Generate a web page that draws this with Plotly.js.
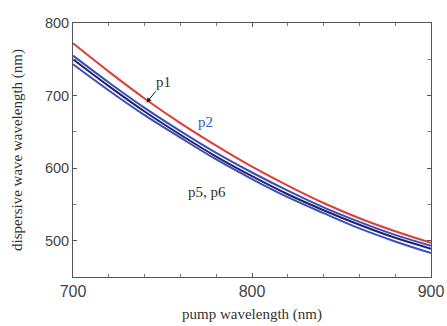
<!DOCTYPE html>
<html>
<head>
<meta charset="utf-8">
<script src="https://cdn.plot.ly/plotly-3.0.1.min.js"></script>
<style>html,body{margin:0;padding:0;background:#fff;}#chart{width:447px;height:326px;}</style>
</head>
<body>
<div id="chart"></div>
<script>
// pump wavelength (nm)
var pump = [700, 720, 740, 760, 780, 800, 820, 840, 860, 880, 900];
// dispersive wave wavelength (nm)
var redLine   = [772, 733, 696, 662, 631, 602, 576, 552, 531, 513, 497];
var blueUpper = [755, 718, 683, 651, 621, 594, 569, 546, 526, 508, 493];
var navyMid   = [750, 713, 678, 646, 616, 589, 564, 542, 522, 504, 489];
var blueLower = [743, 707, 673, 642, 612, 585, 560, 538, 517, 499, 483];

var xTicks = [700, 800, 900];
var yTicks = [500, 600, 700, 800];

function line(y, color) {
  return {x: pump, y: y, type: 'scatter', mode: 'lines', line: {color: color, width: 2, shape: 'spline'}, hoverinfo: 'none'};
}

var data = [
  line(blueLower, '#3a4fbf'),
  line(navyMid, '#22245e'),
  line(blueUpper, '#3a4fbf'),
  line(redLine, '#de3d34')
];

var axisCommon = {
  showgrid: false, zeroline: false, showline: true, linecolor: '#555', linewidth: 1,
  mirror: 'allticks', ticks: 'inside', ticklen: 4, tickcolor: '#555'
};

var serif = 'Liberation Serif, Times New Roman, serif';
var sans = 'Liberation Sans, Arial, sans-serif';

var layout = {
  width: 447, height: 326,
  margin: {l: 73, r: 16, t: 23, b: 49},
  paper_bgcolor: '#fff', plot_bgcolor: '#fff',
  showlegend: false,
  xaxis: Object.assign({}, axisCommon, {
    range: [700, 900], tickvals: xTicks, ticktext: xTicks.map(String),
    tickfont: {family: sans, size: 16, color: '#444'},
    minor: {dtick: 20, ticks: 'inside', ticklen: 3, tickcolor: '#777', showgrid: false},
    title: {text: 'pump wavelength (nm)', font: {family: serif, size: 15, color: '#333'}, standoff: 9}
  }),
  yaxis: Object.assign({}, axisCommon, {
    range: [450, 800], tickvals: yTicks, ticktext: yTicks.map(String),
    tickfont: {family: sans, size: 14.5, color: '#444'},
    minor: {dtick: 50, ticks: 'inside', ticklen: 3, tickcolor: '#777', showgrid: false},
    title: {text: 'dispersive wave wavelength (nm)', font: {family: serif, size: 15, color: '#333'}, standoff: 18}
  }),
  annotations: [
    {x: 741, y: 690, xref: 'x', yref: 'y', text: 'p1', showarrow: true, arrowhead: 2, arrowsize: 1, arrowwidth: 1, arrowcolor: '#222', ax: 17, ay: -21,
     font: {family: serif, size: 15, color: '#333'}},
    {x: 774, y: 663, xref: 'x', yref: 'y', text: 'p2', showarrow: false,
     font: {family: serif, size: 15, color: '#3a5ab0'}},
    {x: 775, y: 567, xref: 'x', yref: 'y', text: 'p5, p6', showarrow: false,
     font: {family: serif, size: 15, color: '#333'}}
  ]
};

Plotly.newPlot('chart', data, layout, {staticPlot: true, displayModeBar: false});
</script>
</body>
</html>
